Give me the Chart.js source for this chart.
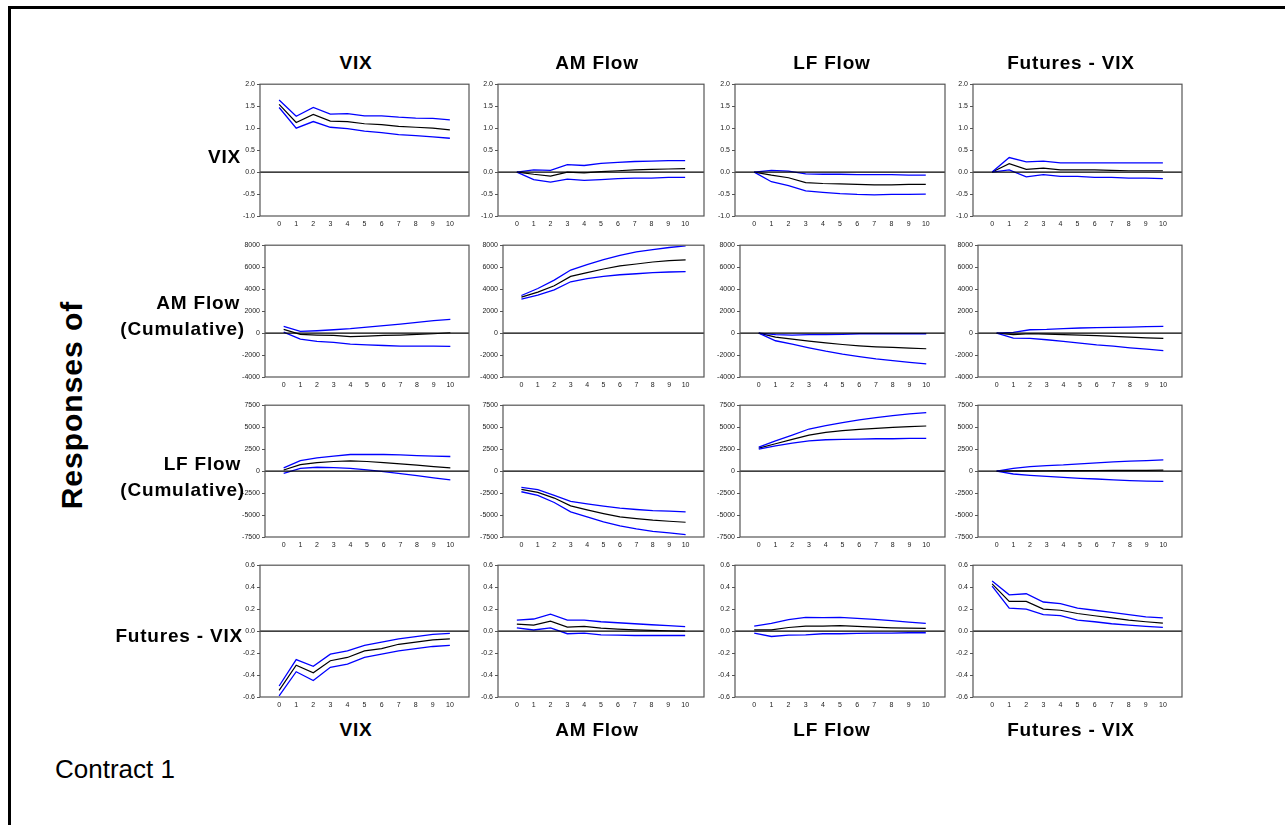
<!DOCTYPE html>
<html><head><meta charset="utf-8">
<script src="https://cdn.jsdelivr.net/npm/chart.js@4"></script>
<style>
body{margin:0;background:#fff;width:1285px;height:825px;overflow:hidden;position:relative;font-family:"Liberation Sans",Arial,sans-serif;}
#frame{position:absolute;left:8px;top:6px;width:1400px;height:900px;border-left:3px solid #000;border-top:3px solid #000;}
.lbl{position:absolute;font-weight:bold;font-size:19px;line-height:19px;color:#000;white-space:nowrap;letter-spacing:0.8px;}
.c{transform:translate(-50%,-50%);}
.r{transform:translate(-100%,-50%);}
canvas{position:absolute;}
</style></head><body>
<div id="frame"></div>
<script>
// ---- data ----
const steps = [0,1,2,3,4,5,6,7,8,9,10];
const shockNames = ["VIX","AM Flow","LF Flow","Futures - VIX"];
const respNames = [["VIX"],["AM Flow","(Cumulative)"],["LF Flow","(Cumulative)"],["Futures - VIX"]];
const yTicksVIX = [-1.0,-0.5,0.0,0.5,1.0,1.5,2.0];
const yTicksAM = [-4000,-2000,0,2000,4000,6000,8000];
const yTicksLF = [-7500,-5000,-2500,0,2500,5000,7500];
const yTicksFUT = [-0.6,-0.4,-0.2,0.0,0.2,0.4,0.6];

// Response of VIX
const vix_vix_mid = [1.54,1.13,1.31,1.16,1.15,1.10,1.08,1.04,1.02,1.00,0.96];
const vix_vix_up  = [1.64,1.27,1.47,1.32,1.33,1.28,1.28,1.25,1.23,1.22,1.19];
const vix_vix_lo  = [1.47,1.00,1.15,1.02,0.99,0.93,0.90,0.85,0.83,0.80,0.77];
const vix_am_mid = [0,-0.05,-0.09,0.00,-0.02,0.01,0.03,0.05,0.06,0.07,0.08];
const vix_am_up  = [0,0.05,0.04,0.17,0.15,0.20,0.22,0.24,0.25,0.26,0.26];
const vix_am_lo  = [0,-0.17,-0.23,-0.16,-0.19,-0.17,-0.15,-0.14,-0.14,-0.12,-0.12];
const vix_lf_mid = [0,-0.07,-0.13,-0.24,-0.26,-0.27,-0.28,-0.29,-0.29,-0.28,-0.28];
const vix_lf_up  = [0,0.04,0.02,-0.04,-0.05,-0.05,-0.06,-0.06,-0.06,-0.07,-0.07];
const vix_lf_lo  = [0,-0.22,-0.31,-0.43,-0.46,-0.49,-0.51,-0.52,-0.51,-0.51,-0.50];
const vix_fut_mid = [0,0.19,0.06,0.09,0.05,0.05,0.05,0.04,0.03,0.03,0.03];
const vix_fut_up  = [0,0.33,0.23,0.25,0.21,0.21,0.21,0.21,0.21,0.21,0.21];
const vix_fut_lo  = [0,0.05,-0.11,-0.06,-0.10,-0.10,-0.12,-0.12,-0.14,-0.14,-0.15];

// Response of AM Flow (cumulative)
const am_vix_mid = [340,-120,-180,-210,-330,-270,-210,-180,-120,-60,30];
const am_vix_up  = [610,150,210,300,400,550,670,820,980,1130,1250];
const am_vix_lo  = [90,-550,-760,-850,-1000,-1070,-1130,-1190,-1190,-1190,-1220];
const am_am_mid = [3270,3730,4310,5160,5500,5830,6110,6290,6470,6600,6660];
const am_am_up  = [3420,4060,4820,5740,6230,6690,7080,7390,7600,7790,7940];
const am_am_lo  = [3080,3450,3940,4670,4950,5160,5310,5400,5500,5560,5590];
const am_lf_mid = [0,-370,-550,-730,-890,-1040,-1160,-1250,-1310,-1370,-1430];
const am_lf_up  = [0,-150,-180,-150,-150,-120,-60,-60,-60,-60,-60];
const am_lf_lo  = [0,-700,-1000,-1340,-1650,-1920,-2140,-2350,-2500,-2660,-2810];
const am_fut_mid = [0,-150,-60,-90,-150,-180,-240,-300,-370,-430,-490];
const am_fut_up  = [0,60,300,330,400,460,490,520,550,580,610];
const am_fut_lo  = [0,-460,-490,-610,-760,-910,-1070,-1190,-1340,-1460,-1590];

// Response of LF Flow (cumulative)
const lf_vix_mid = [130,740,970,1090,1160,1090,970,820,670,510,360];
const lf_vix_up  = [360,1200,1510,1700,1890,1890,1890,1850,1770,1700,1660];
const lf_vix_lo  = [-250,320,440,400,320,130,-60,-290,-520,-780,-1010];
const lf_am_mid = [-2080,-2420,-3070,-3950,-4410,-4830,-5210,-5400,-5590,-5710,-5820];
const lf_am_up  = [-1850,-2120,-2770,-3450,-3720,-3990,-4220,-4370,-4490,-4560,-4640];
const lf_am_lo  = [-2350,-2770,-3570,-4640,-5210,-5780,-6240,-6580,-6850,-7040,-7230];
const lf_lf_mid = [2610,3110,3610,4100,4410,4600,4750,4870,4980,5060,5130];
const lf_lf_up  = [2730,3450,4100,4790,5170,5520,5820,6090,6320,6510,6660];
const lf_lf_lo  = [2500,2880,3190,3450,3570,3610,3640,3680,3680,3720,3720];
const lf_fut_mid = [0,20,30,40,50,60,70,80,80,90,100];
const lf_fut_up  = [0,320,510,630,700,820,930,1050,1130,1200,1280];
const lf_fut_lo  = [0,-330,-480,-590,-710,-820,-900,-1010,-1090,-1130,-1160];

// Response of Futures - VIX
const fut_vix_mid = [-0.54,-0.31,-0.38,-0.27,-0.24,-0.18,-0.16,-0.12,-0.10,-0.08,-0.07];
const fut_vix_up  = [-0.50,-0.26,-0.32,-0.21,-0.18,-0.13,-0.10,-0.07,-0.05,-0.03,-0.02];
const fut_vix_lo  = [-0.59,-0.37,-0.45,-0.33,-0.30,-0.24,-0.21,-0.18,-0.16,-0.14,-0.13];
const fut_am_mid = [0.064,0.055,0.090,0.036,0.043,0.027,0.018,0.012,0.006,0.003,0.000];
const fut_am_up  = [0.100,0.110,0.155,0.100,0.100,0.085,0.076,0.067,0.058,0.049,0.040];
const fut_am_lo  = [0.030,0.010,0.030,-0.024,-0.018,-0.034,-0.037,-0.040,-0.040,-0.040,-0.040];
const fut_lf_mid = [0.012,0.012,0.033,0.046,0.046,0.049,0.043,0.036,0.030,0.027,0.024];
const fut_lf_up  = [0.046,0.070,0.104,0.125,0.122,0.125,0.116,0.107,0.095,0.082,0.070];
const fut_lf_lo  = [-0.018,-0.049,-0.037,-0.034,-0.024,-0.024,-0.021,-0.018,-0.018,-0.015,-0.015];
const fut_fut_mid = [0.43,0.27,0.27,0.20,0.19,0.16,0.14,0.12,0.10,0.085,0.073];
const fut_fut_up  = [0.457,0.33,0.34,0.265,0.25,0.21,0.19,0.17,0.15,0.13,0.12];
const fut_fut_lo  = [0.41,0.21,0.20,0.15,0.14,0.10,0.085,0.067,0.055,0.043,0.033];

const panels = [
  [[vix_vix_mid,vix_vix_up,vix_vix_lo],[vix_am_mid,vix_am_up,vix_am_lo],[vix_lf_mid,vix_lf_up,vix_lf_lo],[vix_fut_mid,vix_fut_up,vix_fut_lo]],
  [[am_vix_mid,am_vix_up,am_vix_lo],[am_am_mid,am_am_up,am_am_lo],[am_lf_mid,am_lf_up,am_lf_lo],[am_fut_mid,am_fut_up,am_fut_lo]],
  [[lf_vix_mid,lf_vix_up,lf_vix_lo],[lf_am_mid,lf_am_up,lf_am_lo],[lf_lf_mid,lf_lf_up,lf_lf_lo],[lf_fut_mid,lf_fut_up,lf_fut_lo]],
  [[fut_vix_mid,fut_vix_up,fut_vix_lo],[fut_am_mid,fut_am_up,fut_am_lo],[fut_lf_mid,fut_lf_up,fut_lf_lo],[fut_fut_mid,fut_fut_up,fut_fut_lo]]
];
const rowTicks = [yTicksVIX, yTicksAM, yTicksLF, yTicksFUT];
const rowDecimals = [1,0,0,1];

// ---- layout ----
const rowTop = [84,245,405,565];
const plotH = 132;
const colRight = [469,704,945,1182];
const colLeftBase = [260,498,735,973];
const rowLeftShift = [0,5,5,0];
const YW = 40, PADT = 6, XH = 20, PADR = 3;

const framePlugin = {
  id:'frameZero',
  afterDatasetsDraw(chart){
    const {ctx, chartArea:a, scales} = chart;
    ctx.save();
    const y0 = scales.y.getPixelForValue(0);
    ctx.strokeStyle = '#000'; ctx.lineWidth = 1.2;
    ctx.beginPath(); ctx.moveTo(a.left, y0); ctx.lineTo(a.right, y0); ctx.stroke();
    ctx.strokeStyle = '#555'; ctx.lineWidth = 1.2;
    ctx.strokeRect(a.left, a.top, a.right - a.left, a.bottom - a.top);
    ctx.restore();
  }
};

function pts(arr){ return arr.map((v,i)=>({x:steps[i], y:v})); }

for (let r=0;r<4;r++){
  for (let c=0;c<4;c++){
    const left = colLeftBase[c] + rowLeftShift[r];
    const w = colRight[c] - left;
    const cv = document.createElement('canvas');
    const cw = YW + w + PADR, ch = PADT + plotH + XH;
    cv.width = cw; cv.height = ch;
    cv.style.left = (left - YW) + 'px';
    cv.style.top = (rowTop[r] - PADT) + 'px';
    cv.style.width = cw + 'px'; cv.style.height = ch + 'px';
    document.body.appendChild(cv);
    const [mid, up, lo] = panels[r][c];
    const ticks = rowTicks[r];
    const dec = rowDecimals[r];
    new Chart(cv, {
      type:'line',
      data:{datasets:[
        {data:pts(up), borderColor:'#0000ff', borderWidth:1.3, pointRadius:0, tension:0},
        {data:pts(lo), borderColor:'#0000ff', borderWidth:1.3, pointRadius:0, tension:0},
        {data:pts(mid), borderColor:'#000', borderWidth:1.2, pointRadius:0, tension:0}
      ]},
      options:{
        responsive:false, animation:false, devicePixelRatio:1,
        layout:{padding:{top:PADT, right:PADR, left:0, bottom:0}},
        plugins:{legend:{display:false}, tooltip:{enabled:false}},
        scales:{
          x:{type:'linear', min:-1.12, max:11.12,
             afterBuildTicks:s=>{ s.ticks = steps.map(v=>({value:v})); },
             afterFit:s=>{ s.height = XH; },
             grid:{display:false, drawTicks:false}, border:{display:false},
             ticks:{font:{size:7, family:'"Liberation Sans", Arial'}, color:'#222', padding:4, maxRotation:0, autoSkip:false,
                    callback:v=>String(v)}},
          y:{type:'linear', min:ticks[0], max:ticks[ticks.length-1],
             afterBuildTicks:s=>{ s.ticks = ticks.map(v=>({value:v})); },
             afterFit:s=>{ s.width = YW; },
             grid:{display:true, drawOnChartArea:false, drawTicks:true, tickLength:3, color:'#555'},
             border:{display:false},
             ticks:{font:{size:7, family:'"Liberation Sans", Arial'}, color:'#222', padding:2, autoSkip:false,
                    callback:v=>Number(v).toFixed(dec)}}
        }
      },
      plugins:[framePlugin]
    });
  }
}

// ---- text labels ----
function label(text, x, y, cls, extra){
  const d = document.createElement('div');
  d.className = 'lbl ' + cls;
  d.textContent = text;
  d.style.left = x + 'px'; d.style.top = y + 'px';
  if (extra) Object.assign(d.style, extra);
  document.body.appendChild(d);
}
const headerX = [356,597,832,1071];
shockNames.forEach((n,i)=>{ label(n, headerX[i], 62, 'c'); label(n, headerX[i], 729, 'c'); });
const rowLabelPos = [[[241,156]],[[240,302],[245,328]],[[241,463],[245,489]],[[243,635]]];
respNames.forEach((lines,i)=>lines.forEach((t,j)=>label(t, rowLabelPos[i][j][0], rowLabelPos[i][j][1], 'r')));
label('Responses of', 72, 405, 'c', {transform:'translate(-50%,-50%) rotate(-90deg)', fontSize:'30px', lineHeight:'30px', letterSpacing:'1px'});
label('Contract 1', 55, 769, '', {transform:'translateY(-50%)', fontWeight:'normal', fontSize:'26px', lineHeight:'26px', letterSpacing:'0px'});
</script>
</body></html>
